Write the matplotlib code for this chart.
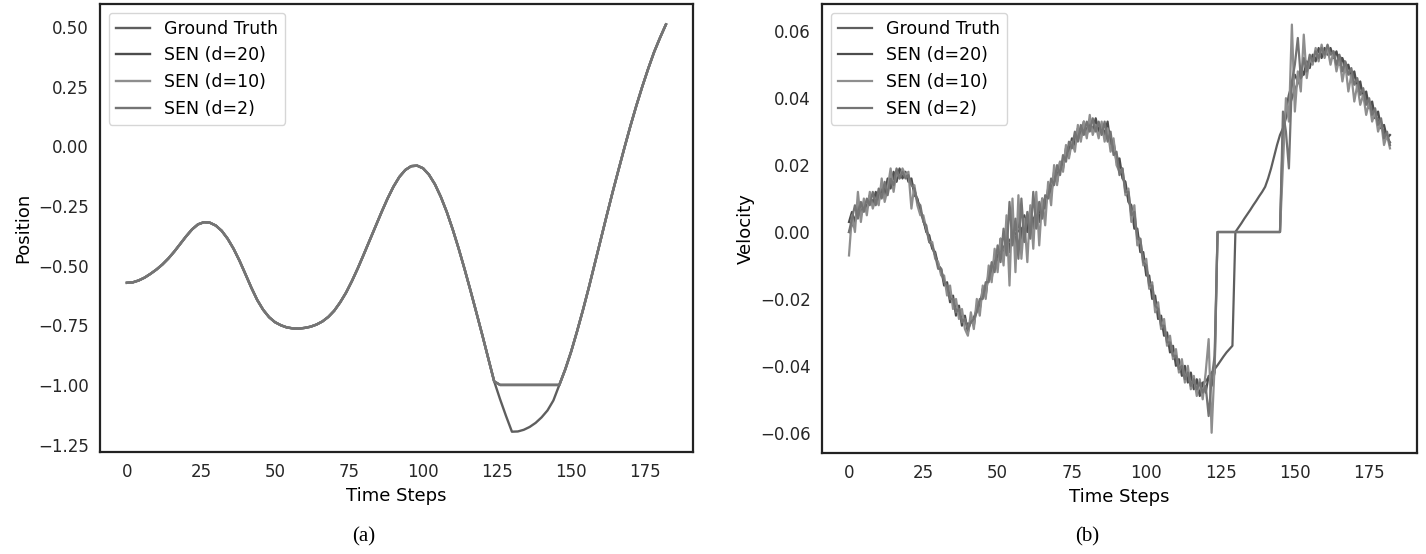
import numpy as np
import matplotlib.pyplot as plt

steps = np.arange(183)
pos_steps = np.arange(0, 183, 2)

# position, every second step
pos_truth = [
    -0.572, -0.570, -0.562, -0.550, -0.534, -0.516, -0.495, -0.470, -0.441, -0.409,
    -0.377, -0.348, -0.327, -0.318, -0.320, -0.332, -0.354, -0.387, -0.429, -0.479,
    -0.535, -0.592, -0.644, -0.685, -0.716, -0.737, -0.750, -0.759, -0.763, -0.764,
    -0.761, -0.756, -0.747, -0.734, -0.715, -0.689, -0.654, -0.613, -0.564, -0.510,
    -0.452, -0.393, -0.334, -0.275, -0.219, -0.169, -0.128, -0.099, -0.083, -0.081,
    -0.092, -0.119, -0.159, -0.212, -0.275, -0.348, -0.428, -0.514, -0.604, -0.697,
    -0.791, -0.888, -0.985, -1.060, -1.130, -1.196, -1.195, -1.188, -1.176, -1.159,
    -1.136, -1.107, -1.065, -1.000, -0.935, -0.860, -0.775, -0.685, -0.590, -0.490,
    -0.390, -0.290, -0.192, -0.098, -0.005, 0.085, 0.170, 0.250, 0.325, 0.395,
    0.455, 0.511,
]
pos_sen = [
    -0.572, -0.570, -0.562, -0.550, -0.534, -0.516, -0.495, -0.470, -0.441, -0.409,
    -0.377, -0.348, -0.327, -0.318, -0.320, -0.332, -0.354, -0.387, -0.429, -0.479,
    -0.535, -0.592, -0.644, -0.685, -0.716, -0.737, -0.750, -0.759, -0.763, -0.764,
    -0.761, -0.756, -0.747, -0.734, -0.715, -0.689, -0.654, -0.613, -0.564, -0.510,
    -0.452, -0.393, -0.334, -0.275, -0.219, -0.169, -0.128, -0.099, -0.083, -0.081,
    -0.092, -0.119, -0.159, -0.212, -0.275, -0.348, -0.428, -0.514, -0.604, -0.697,
    -0.791, -0.888, -0.985, -1.000, -1.000, -1.000, -1.000, -1.000, -1.000, -1.000,
    -1.000, -1.000, -1.000, -1.000, -0.935, -0.860, -0.775, -0.685, -0.590, -0.490,
    -0.390, -0.290, -0.192, -0.098, -0.005, 0.085, 0.170, 0.250, 0.325, 0.395,
    0.455, 0.511,
]

# velocity, every step
vel_truth = [
    0.000, 0.002, 0.004, 0.005, 0.006, 0.007, 0.008, 0.009, 0.0095, 0.010,
    0.011, 0.012, 0.013, 0.014, 0.015, 0.016, 0.017, 0.0175, 0.0178, 0.0175,
    0.0165, 0.015, 0.0125, 0.0095, 0.0065, 0.0035, 0.0005, -0.002, -0.0045, -0.007,
    -0.0095, -0.012, -0.0145, -0.017, -0.019, -0.021, -0.023, -0.0245, -0.026, -0.027,
    -0.0275, -0.027, -0.0255, -0.0235, -0.021, -0.0185, -0.016, -0.0135, -0.011, -0.009,
    -0.007, -0.0055, -0.0045, -0.0035, -0.0025, -0.0015, -0.0005, 0.0003, 0.001, 0.0018,
    0.0025, 0.0033, 0.004, 0.005, 0.006, 0.0075, 0.009, 0.011, 0.013, 0.015,
    0.017, 0.019, 0.021, 0.023, 0.025, 0.0265, 0.028, 0.029, 0.030, 0.0305,
    0.031, 0.0312, 0.0313, 0.0312, 0.031, 0.0305, 0.0298, 0.029, 0.0275, 0.0255,
    0.023, 0.020, 0.017, 0.0135, 0.010, 0.0065, 0.003, -0.0005, -0.004, -0.0075,
    -0.011, -0.0145, -0.018, -0.021, -0.024, -0.027, -0.0295, -0.032, -0.034, -0.036,
    -0.038, -0.0395, -0.041, -0.042, -0.043, -0.044, -0.0448, -0.0453, -0.0455, -0.0452,
    -0.0445, -0.0435, -0.042, -0.041, -0.0398, -0.0385, -0.0372, -0.036, -0.035, -0.034,
    0.000, 0.0013, 0.0026, 0.004, 0.0053, 0.0066, 0.008, 0.0093, 0.0107, 0.012,
    0.0135, 0.016, 0.019, 0.0225, 0.026, 0.029, 0.031, 0.034, 0.037, 0.040,
    0.0425, 0.0445, 0.046, 0.0475, 0.049, 0.050, 0.051, 0.052, 0.0527, 0.0533,
    0.0537, 0.054, 0.054, 0.0537, 0.0532, 0.0525, 0.0516, 0.0505, 0.0493, 0.048,
    0.0466, 0.045, 0.0434, 0.0417, 0.040, 0.0383, 0.0366, 0.0349, 0.0332, 0.0315,
    0.0298, 0.0282, 0.0268,
]
vel_sen20 = [
    0.003, 0.006, 0.003, 0.008, 0.005, 0.009, 0.007, 0.011, 0.008, 0.012,
    0.009, 0.014, 0.011, 0.016, 0.013, 0.018, 0.015, 0.019, 0.016, 0.018,
    0.015, 0.016, 0.011, 0.010, 0.006, 0.004, 0.000, -0.001, -0.005, -0.006,
    -0.010, -0.011, -0.016, -0.015, -0.021, -0.019, -0.025, -0.022, -0.028, -0.025,
    -0.030, -0.026, -0.028, -0.022, -0.023, -0.017, -0.019, -0.012, -0.014, -0.007,
    -0.010, -0.002, -0.008, 0.000, -0.006, 0.002, -0.004, 0.004, -0.002, 0.005,
    0.000, 0.007, 0.001, 0.008, 0.003, 0.010, 0.007, 0.013, 0.011, 0.018,
    0.015, 0.021, 0.019, 0.025, 0.023, 0.028, 0.026, 0.031, 0.028, 0.033,
    0.029, 0.033, 0.030, 0.034, 0.030, 0.032, 0.029, 0.033, 0.026, 0.027,
    0.021, 0.022, 0.016, 0.015, 0.009, 0.008, 0.001, 0.001, -0.006, -0.006,
    -0.013, -0.013, -0.020, -0.019, -0.026, -0.025, -0.031, -0.030, -0.036, -0.034,
    -0.040, -0.038, -0.043, -0.040, -0.045, -0.042, -0.047, -0.044, -0.049, -0.045,
    -0.048, -0.043, -0.046, -0.042, 0.000, 0.000, 0.000, 0.000, 0.000, 0.000,
    0.000, 0.000, 0.000, 0.000, 0.000, 0.000, 0.000, 0.000, 0.000, 0.000,
    0.000, 0.000, 0.000, 0.000, 0.000, 0.000, 0.030, 0.036, 0.041, 0.044,
    0.047, 0.045, 0.049, 0.047, 0.051, 0.049, 0.053, 0.051, 0.055, 0.052,
    0.055, 0.053, 0.055, 0.052, 0.054, 0.050, 0.052, 0.048, 0.050, 0.046,
    0.048, 0.043, 0.045, 0.040, 0.042, 0.037, 0.039, 0.034, 0.036, 0.031,
    0.032, 0.028, 0.029,
]
vel_sen10 = [
    -0.007, 0.005, 0.000, 0.012, 0.003, 0.010, 0.005, 0.012, 0.007, 0.010,
    0.008, 0.016, 0.009, 0.013, 0.019, 0.012, 0.018, 0.016, 0.019, 0.017,
    0.018, 0.007, 0.014, 0.008, 0.005, 0.005, 0.001, -0.003, -0.003, -0.008,
    -0.009, -0.013, -0.013, -0.019, -0.016, -0.023, -0.020, -0.026, -0.023, -0.029,
    -0.031, -0.024, -0.029, -0.020, -0.025, -0.016, -0.020, -0.010, -0.015, -0.005,
    -0.012, -0.002, -0.010, 0.005, -0.016, 0.010, -0.012, 0.011, -0.008, 0.004,
    -0.009, 0.008, -0.005, 0.012, -0.004, 0.010, 0.002, 0.015, 0.008, 0.020,
    0.014, 0.021, 0.018, 0.026, 0.022, 0.027, 0.024, 0.032, 0.027, 0.033,
    0.028, 0.035, 0.029, 0.032, 0.028, 0.033, 0.027, 0.031, 0.024, 0.028,
    0.020, 0.018, 0.019, 0.011, 0.013, 0.003, 0.008, -0.004, -0.002, -0.010,
    -0.008, -0.017, -0.015, -0.024, -0.021, -0.029, -0.026, -0.034, -0.031, -0.038,
    -0.035, -0.042, -0.038, -0.045, -0.040, -0.047, -0.043, -0.049, -0.044, -0.050,
    -0.042, -0.032, -0.060, -0.040, 0.000, 0.000, 0.000, 0.000, 0.000, 0.000,
    0.000, 0.000, 0.000, 0.000, 0.000, 0.000, 0.000, 0.000, 0.000, 0.000,
    0.000, 0.000, 0.000, 0.000, 0.000, 0.000, 0.020, 0.040, 0.033, 0.062,
    0.036, 0.048, 0.042, 0.059, 0.046, 0.052, 0.050, 0.055, 0.051, 0.056,
    0.052, 0.055, 0.050, 0.054, 0.048, 0.052, 0.045, 0.050, 0.042, 0.047,
    0.039, 0.044, 0.038, 0.041, 0.035, 0.039, 0.033, 0.036, 0.030, 0.033,
    0.026, 0.029, 0.025,
]
vel_sen2 = [
    0.000, 0.004, 0.008, 0.004, 0.009, 0.006, 0.010, 0.008, 0.012, 0.008,
    0.013, 0.010, 0.015, 0.011, 0.016, 0.014, 0.019, 0.016, 0.018, 0.016,
    0.017, 0.014, 0.013, 0.009, 0.008, 0.003, 0.002, -0.003, -0.004, -0.007,
    -0.011, -0.011, -0.015, -0.016, -0.020, -0.020, -0.024, -0.023, -0.027, -0.026,
    -0.029, -0.027, -0.026, -0.024, -0.020, -0.020, -0.015, -0.015, -0.009, -0.012,
    -0.004, -0.009, 0.001, -0.007, 0.009, -0.004, 0.004, -0.008, 0.010, -0.003,
    0.006, -0.002, 0.012, 0.001, 0.009, 0.004, 0.011, 0.010, 0.016, 0.014,
    0.020, 0.017, 0.023, 0.021, 0.027, 0.025, 0.030, 0.027, 0.032, 0.029,
    0.033, 0.030, 0.034, 0.030, 0.033, 0.029, 0.033, 0.027, 0.030, 0.023,
    0.024, 0.017, 0.019, 0.012, 0.012, 0.005, 0.006, -0.002, -0.002, -0.009,
    -0.010, -0.016, -0.016, -0.022, -0.023, -0.028, -0.028, -0.033, -0.033, -0.037,
    -0.037, -0.041, -0.040, -0.044, -0.042, -0.046, -0.044, -0.047, -0.045, -0.048,
    -0.046, -0.055, -0.044, -0.037, 0.000, 0.000, 0.000, 0.000, 0.000, 0.000,
    0.000, 0.000, 0.000, 0.000, 0.000, 0.000, 0.000, 0.000, 0.000, 0.000,
    0.000, 0.000, 0.000, 0.000, 0.000, 0.000, 0.036, 0.030, 0.019, 0.045,
    0.050, 0.058, 0.046, 0.052, 0.048, 0.053, 0.051, 0.054, 0.052, 0.055,
    0.053, 0.056, 0.053, 0.054, 0.050, 0.053, 0.048, 0.051, 0.047, 0.049,
    0.044, 0.046, 0.041, 0.043, 0.038, 0.040, 0.035, 0.037, 0.032, 0.034,
    0.028, 0.030, 0.026,
]

labels = ['Ground Truth', 'SEN (d=20)', 'SEN (d=10)', 'SEN (d=2)']
colors = ['#5e5e5e', '#4c4c4c', '#8e8e8e', '#747474']

fig = plt.figure(figsize=(14.26, 5.54), dpi=100)
ax1 = fig.add_axes([0.0701, 0.184, 0.4158, 0.8087])
ax2 = fig.add_axes([0.5764, 0.182, 0.4173, 0.8105])

pos_series = [pos_truth, pos_sen, pos_sen, pos_sen]
vel_series = [vel_truth, vel_sen20, vel_sen10, vel_sen2]

for y, lab, c in zip(pos_series, labels, colors):
    ax1.plot(pos_steps, y, color=c, lw=1.7, label=lab)
for y, lab, c in zip(vel_series, labels, colors):
    ax2.plot(steps, y, color=c, lw=1.6, label=lab)

ax1.set_ylabel('Position', fontsize=13)
ax2.set_ylabel('Velocity', fontsize=13)

for ax in (ax1, ax2):
    ax.set_xlabel('Time Steps', fontsize=13)
    ax.tick_params(length=0, pad=8, labelsize=12, colors='#262626')
    for sp in ax.spines.values():
        sp.set_linewidth(1.6)
        sp.set_color('#222222')
    ax.legend(loc='upper left', fontsize=12.5, framealpha=0.8)

fig.text(0.2553, 0.031, '(a)', ha='center', va='center', fontsize=15,
         family='Liberation Serif')
fig.text(0.7623, 0.031, '(b)', ha='center', va='center', fontsize=15,
         family='Liberation Serif')

fig.savefig('out.png', dpi=100)
